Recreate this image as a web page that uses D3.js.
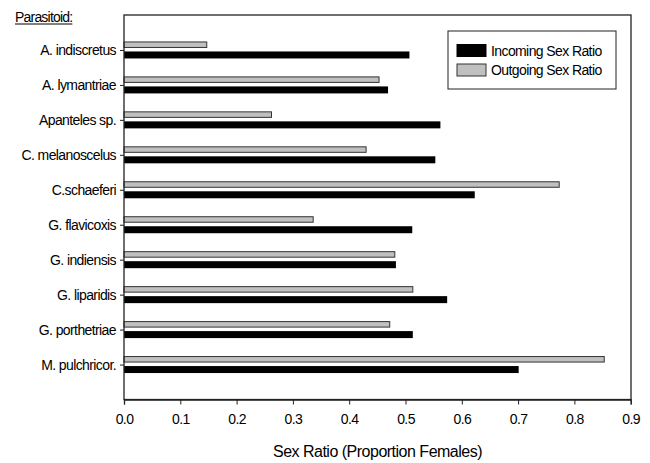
<!DOCTYPE html>
<html>
<head>
<meta charset="utf-8">
<script src="https://cdn.jsdelivr.net/npm/d3@7"></script>
<style>
  html, body { margin: 0; padding: 0; background: #fff; }
  svg { display: block; font-family: "Liberation Sans", Arial, sans-serif; }
</style>
</head>
<body>
<svg id="chart" width="650" height="463"></svg>
<script>
const categories = ["A. indiscretus", "A. lymantriae", "Apanteles sp.", "C. melanoscelus", "C.schaeferi",
  "G. flavicoxis", "G. indiensis", "G. liparidis", "G. porthetriae", "M. pulchricor."];
const incoming = [0.507, 0.469, 0.562, 0.553, 0.623, 0.512, 0.483, 0.574, 0.513, 0.701];
const outgoing = [0.147, 0.453, 0.262, 0.430, 0.773, 0.336, 0.481, 0.513, 0.472, 0.853];
const xTicks = [0, 0.1, 0.2, 0.3, 0.4, 0.5, 0.6, 0.7, 0.8, 0.9];
const seriesNames = ["Incoming Sex Ratio", "Outgoing Sex Ratio"];
const axisTitle = "Sex Ratio (Proportion Females)";
const groupTitle = "Parasitoid:";

(function () {
const svg = d3.select("#chart");
const pL = 124, pR = 631, pT = 15, pB = 399.5;

const x = d3.scaleLinear().domain([0, 0.9]).range([pL, pR - 0.3]);
const y = d3.scalePoint().domain(categories).range([pT, pB]).padding(1);

const BLACK = "#000", GREY = "#c0c0c0", EDGE = "#333";

// bars
const g = svg.append("g");
g.selectAll("rect.out").data(categories).join("rect")
  .attr("class", "out")
  .attr("x", x(0))
  .attr("y", d => y(d) - 8)
  .attr("width", (d, i) => x(outgoing[i]) - x(0))
  .attr("height", 5.5)
  .attr("fill", GREY).attr("stroke", EDGE).attr("stroke-width", 1);
g.selectAll("rect.inc").data(categories).join("rect")
  .attr("class", "inc")
  .attr("x", x(0))
  .attr("y", d => y(d) + 1.5)
  .attr("width", (d, i) => x(incoming[i]) - x(0))
  .attr("height", 7)
  .attr("fill", BLACK);

// plot frame
svg.append("rect")
  .attr("x", pL).attr("y", pT)
  .attr("width", pR - pL).attr("height", pB - pT)
  .attr("fill", "none").attr("stroke", "#222").attr("stroke-width", 1.3);

// x axis
const xAxis = d3.axisBottom(x).tickValues(xTicks).tickFormat(d3.format(".1f")).tickSize(5).tickPadding(10);
const xa = svg.append("g").attr("transform", `translate(0,${pB})`).call(xAxis);
xa.select(".domain").attr("stroke", "#222").attr("stroke-width", 1.3);
xa.selectAll(".tick line").attr("stroke", "#222");
xa.selectAll("text").attr("font-size", 14).attr("fill", "#000")
  .attr("font-family", "Liberation Sans, Arial, sans-serif").attr("letter-spacing", -0.6);

// y axis
const yAxis = d3.axisLeft(y).tickSize(4).tickPadding(4);
const ya = svg.append("g").attr("transform", `translate(${pL},0)`).call(yAxis);
ya.select(".domain").remove();
ya.selectAll(".tick line").attr("stroke", "#222");
ya.selectAll("text").attr("font-size", 14).attr("fill", "#000")
  .attr("font-family", "Liberation Sans, Arial, sans-serif").attr("letter-spacing", -0.6);

// axis title
svg.append("text")
  .attr("x", (pL + pR) / 2).attr("y", 457)
  .attr("text-anchor", "middle").attr("font-size", 16).attr("letter-spacing", -0.5)
  .text(axisTitle);

// group title
const gt = svg.append("text")
  .attr("x", 15).attr("y", 21.5)
  .attr("font-size", 14).attr("letter-spacing", -0.8)
  .text(groupTitle);
const gtw = gt.node().getComputedTextLength();
svg.append("line").attr("x1", 15).attr("x2", 15 + gtw).attr("y1", 24).attr("y2", 24)
  .attr("stroke", "#000").attr("stroke-width", 1);

// legend
const lg = svg.append("g");
lg.append("rect").attr("x", 448).attr("y", 31).attr("width", 168).attr("height", 58)
  .attr("fill", "#fff").attr("stroke", "#222").attr("stroke-width", 1);
const lcol = [BLACK, GREY];
seriesNames.forEach((s, i) => {
  const cy = 50.5 + i * 19.5;
  lg.append("rect").attr("x", 457).attr("y", cy - 6).attr("width", 29).attr("height", 12)
    .attr("fill", lcol[i]).attr("stroke", i === 0 ? BLACK : EDGE).attr("stroke-width", 1);
  lg.append("text").attr("x", 491).attr("y", cy + 5)
    .attr("font-size", 14).attr("letter-spacing", -0.6).text(s);
});
})();
</script>
</body>
</html>
